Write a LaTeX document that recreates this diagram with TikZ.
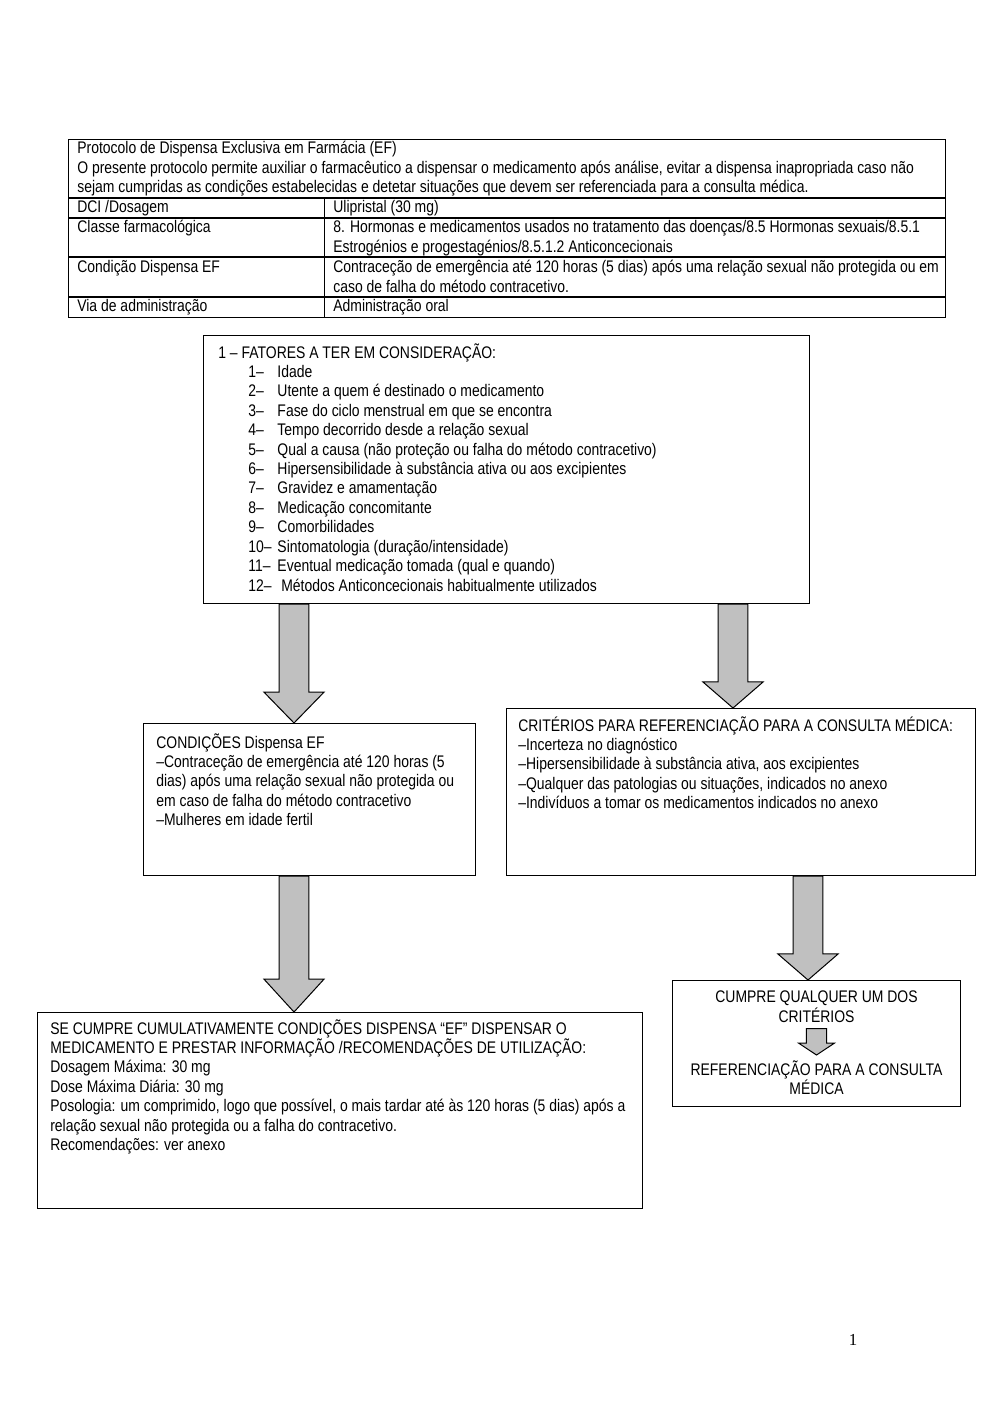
\documentclass[tikz,border=0pt]{standalone}
\usepackage{fontspec}
\setmainfont{Liberation Sans}[FakeStretch=0.83]
\newfontfamily\pagefont{Liberation Serif}
\usetikzlibrary{calc}

\definecolor{arrowgray}{RGB}{192,192,192}
\newcommand{\boxfont}{\fontsize{10}{11.55}\selectfont\lineskiplimit=-100pt\relax}

\tikzset{
  box/.style={draw=black, line width=0.6pt, inner sep=0pt, anchor=north west},
  boxsize/.style 2 args={minimum width=#1*0.595pt, minimum height=#2*0.595pt},
  txt/.style={anchor=north west, inner sep=0pt, align=left, font=\boxfont},
  ctxt/.style={txt, anchor=north, align=center},
  arrowbody/.style={draw=black, line width=0.6pt, fill=arrowgray, line join=miter}
}

% block arrow: shaft half width, head half width, head length, from, to
\newcommand{\blockarrow}[5]{%
  \draw[arrowbody] let \p1=(#4), \p2=(#5) in
    (\x1-#1,\y1) -- (\x1-#1,\y2+#3) -- (\x1-#2,\y2+#3) -- (\x1,\y2)
    -- (\x1+#2,\y2+#3) -- (\x1+#1,\y2+#3) -- (\x1+#1,\y1) -- cycle;}
\newcommand{\fitem}[2]{\hspace*{17.9pt}\makebox[17.3pt][l]{#1}#2}

\begin{document}
\begin{tikzpicture}[x=0.595pt, y=-0.595pt]
\useasboundingbox (0,0) rectangle (1000,1415);

% table
\node[box, boxsize={877}{178}] (tab) at (68,139) {};
\draw[line width=0.6pt] (68,198) -- (945,198);
\draw[line width=0.6pt] (68,218) -- (945,218);
\draw[line width=0.6pt] (68,257) -- (945,257);
\draw[line width=0.6pt] (68,297) -- (945,297);
\draw[line width=0.6pt] (324,198) -- (324,317);
\node[txt] (head) at (77,140) {\strut Protocolo de Dispensa Exclusiva em Farmácia (EF)\\
  O presente protocolo permite auxiliar o farmacêutico a dispensar o medicamento após análise, evitar a dispensa inapropriada caso não\\
  sejam cumpridas as condições estabelecidas e detetar situações que devem ser referenciada para a consulta médica.};
\node[txt] (dci) at (77,199) {\strut DCI /Dosagem};
\node[txt] (dcival) at (333,199) {\strut Ulipristal (30 mg)};
\node[txt] (classe) at (77,219) {\strut Classe farmacológica};
\node[txt] (classeval) at (333,219) {\strut 8. Hormonas e medicamentos usados no tratamento das doenças/8.5 Hormonas sexuais/8.5.1\\
  Estrogénios e progestagénios/8.5.1.2 Anticoncecionais};
\node[txt] (cond) at (77,259) {\strut Condição Dispensa EF};
\node[txt] (condval) at (333,259) {\strut Contraceção de emergência até 120 horas (5 dias) após uma relação sexual não protegida ou em\\
  caso de falha do método contracetivo.};
\node[txt] (via) at (77,298) {\strut Via de administração};
\node[txt] (viaval) at (333,298) {\strut Administração oral};

% boxes
\node[box, boxsize={606}{268}] (fac) at (203,335) {};
\node[txt] (factxt) at ($(fac.north west)+(15,8)$) {\strut 1 – FATORES A TER EM CONSIDERAÇÃO:\\
  \fitem{1–}{Idade}\\
  \fitem{2–}{Utente a quem é destinado o medicamento}\\
  \fitem{3–}{Fase do ciclo menstrual em que se encontra}\\
  \fitem{4–}{Tempo decorrido desde a relação sexual}\\
  \fitem{5–}{Qual a causa (não proteção ou falha do método contracetivo)}\\
  \fitem{6–}{Hipersensibilidade à substância ativa ou aos excipientes}\\
  \fitem{7–}{Gravidez e amamentação}\\
  \fitem{8–}{Medicação concomitante}\\
  \fitem{9–}{Comorbilidades}\\
  \fitem{10–}{Sintomatologia (duração/intensidade)}\\
  \fitem{11–}{Eventual medicação tomada (qual e quando)}\\
  \fitem{12–}{\ Métodos Anticoncecionais habitualmente utilizados}};

\node[box, boxsize={332}{152}] (condbox) at (143,723) {};
\node[txt] (condtxt) at ($(condbox.north west)+(13,10)$) {\strut CONDIÇÕES Dispensa EF\\
  –Contraceção de emergência até 120 horas (5\\
  dias) após uma relação sexual não protegida ou\\
  em caso de falha do método contracetivo\\
  –Mulheres em idade fertil};

\node[box, boxsize={469}{167}] (crit) at (506,708) {};
\node[txt] (crittxt) at ($(crit.north west)+(12,8)$) {\strut CRITÉRIOS PARA REFERENCIAÇÃO PARA A CONSULTA MÉDICA:\\
  –Incerteza no diagnóstico\\
  –Hipersensibilidade à substância ativa, aos excipientes\\
  –Qualquer das patologias ou situações, indicados no anexo\\
  –Indivíduos a tomar os medicamentos indicados no anexo};

\node[box, boxsize={605}{196}] (disp) at (37,1012) {};
\node[txt] (disptxt) at ($(disp.north west)+(13,7)$) {\strut SE CUMPRE CUMULATIVAMENTE CONDIÇÕES DISPENSA “EF” DISPENSAR O\\
  MEDICAMENTO E PRESTAR INFORMAÇÃO /RECOMENDAÇÕES DE UTILIZAÇÃO:\\
  Dosagem Máxima: 30 mg\\
  Dose Máxima Diária: 30 mg\\
  Posologia: um comprimido, logo que possível, o mais tardar até às 120 horas (5 dias) após a\\
  relação sexual não protegida ou a falha do contracetivo.\\
  Recomendações: ver anexo};

\node[box, boxsize={288}{126}] (refbox) at (672,980) {};
\node[ctxt] (cumpre) at ($(refbox.north)+(0,9)$) {\strut CUMPRE QUALQUER UM DOS\\ CRITÉRIOS\strut};
\node[ctxt] (referencia) at ($(refbox.north)+(0,80)$) {\strut REFERENCIAÇÃO PARA A CONSULTA\\ MÉDICA};

% arrows
\coordinate (axleft) at (294,0);
\coordinate (axright) at (733,0);
\coordinate (axcrit) at (808,0);
\blockarrow{8.9pt}{17.9pt}{18.4pt}{fac.south -| axleft}{condbox.north -| axleft}
\blockarrow{8.9pt}{17.9pt}{15.5pt}{fac.south -| axright}{crit.north -| axright}
\blockarrow{8.9pt}{17.9pt}{19.6pt}{condbox.south -| axleft}{disp.north -| axleft}
\blockarrow{8.9pt}{17.9pt}{15.5pt}{crit.south -| axcrit}{refbox.north -| axcrit}
\blockarrow{6pt}{10.7pt}{7.1pt}{cumpre.south}{$(referencia.north)+(0,-5)$}

\node[font=\pagefont\fontsize{10}{12}\selectfont, inner sep=0pt] (pagenum) at (853,1340) {1};
\end{tikzpicture}
\end{document}
